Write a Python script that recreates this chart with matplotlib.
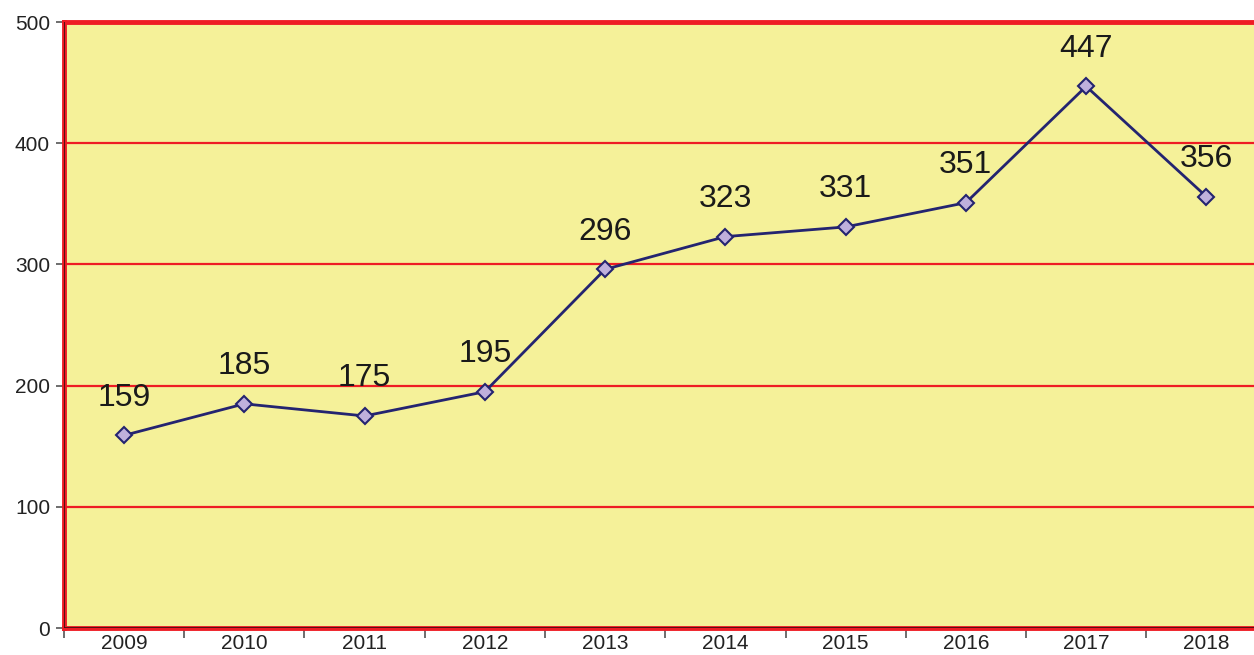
import matplotlib.pyplot as plt
import numpy as np

years = ['2009', '2010', '2011', '2012', '2013', '2014', '2015', '2016', '2017', '2018']
values = [159, 185, 175, 195, 296, 323, 331, 351, 447, 356]
y_ticks = [0, 100, 200, 300, 400, 500]

plt.rcParams['font.family'] = ['Liberation Sans', 'DejaVu Sans']

fig = plt.figure(figsize=(12.54, 6.55), dpi=100)
# plot area runs off the right edge a little
ax = fig.add_axes([0.051, 0.0412, 0.959, 0.925])
ax.set_facecolor('#f5f199')

x = np.arange(len(years))
ax.set_xlim(-0.5, len(years) - 0.5)
ax.set_ylim(0, 500)

# red grid lines
for v in y_ticks[1:-1]:
    ax.axhline(v, color='#ee1c24', lw=1.6, zorder=1)

ax.plot(x, values, color='#242470', lw=2, zorder=3,
        marker='D', markersize=8, markerfacecolor='#bfb0dc',
        markeredgecolor='#242470', markeredgewidth=1.5)

for xi, v in zip(x, values):
    ax.annotate(str(v), (xi, v), xytext=(0, 27), textcoords='offset points',
                ha='center', va='center', fontsize=23, color='#1a1a1a', zorder=4)

# borders
for side in ['top', 'left', 'bottom']:
    ax.spines[side].set_color('#ee1c24')
    ax.spines[side].set_linewidth(3.5)
ax.spines['right'].set_visible(False)
ax.axvline(-0.5, color='#3a1010', lw=1.2, zorder=5)
ax.axhline(0, color='#3a1010', lw=1.2, zorder=5)

ax.set_yticks(y_ticks)
ax.set_yticklabels([str(t) for t in y_ticks], fontsize=15, color='#222222')
ax.set_xticks(x)
ax.set_xticklabels(years, fontsize=15, color='#222222')
ax.tick_params(axis='x', length=0, pad=4)
ax.tick_params(axis='y', length=6, width=1.2, color='#555555', pad=4)
ax.set_xticks(np.arange(len(years) + 1) - 0.5, minor=True)
ax.tick_params(axis='x', which='minor', length=7, width=1.2, color='#555555')

fig.savefig('out.png', dpi=100)
